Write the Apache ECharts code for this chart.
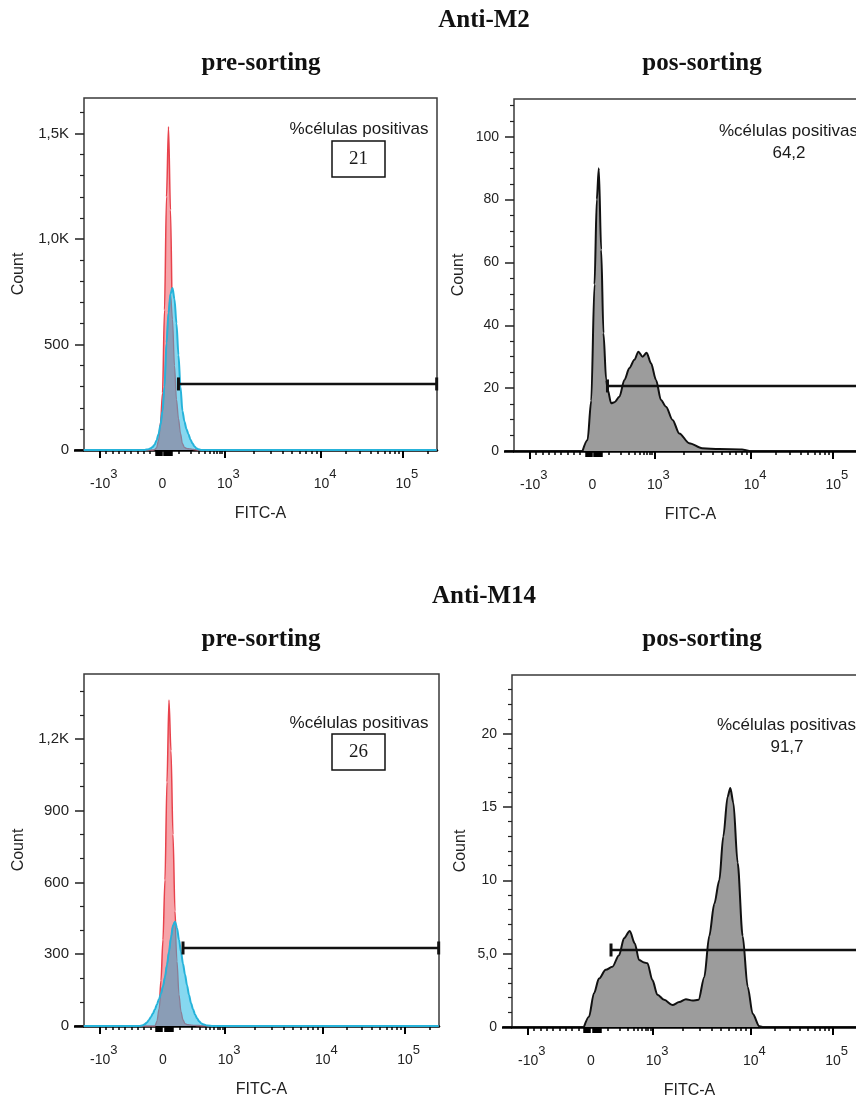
<!DOCTYPE html>
<html><head><meta charset="utf-8">
<script src="https://cdn.jsdelivr.net/npm/echarts@6/dist/echarts.min.js"></script>
<style>html,body{margin:0;padding:0;background:#fff}#c{width:856px;height:1099px}</style>
</head><body><div id="c"></div>
<script>
// ================= DATA =================
// x values are positions on the biexponential FITC-A display scale
// (0 = FITC 0, 62 = 10^3, 159 = 10^4, 241 = 10^5); y values are event counts.
const preX = [-79,-24,-22,-20,-18,-16,-14,-12,-10,-8,-6,-4,-2,0,2,4,6,8,10,12,14,16,18,20,22,24,26,28,30,32,34,36,38,40,44,50,275];
// Anti-M2 pre-sorting: control (red) and stained sample (cyan)
const m2PreControl = [0,0,0,0,0,0,0,0,0,2,10,45,130,270,663,1200,1532,1137,620,400,240,150,80,30,12,8,6,5,3,2,1,0,0,0,0,0,0];
const m2PreSample  = [0,0,0,0,0,2,4,8,14,25,45,75,120,185,300,507,650,740,768,715,600,450,300,185,135,100,75,50,32,18,8,3,1,0,0,0,0];
// Anti-M14 pre-sorting
const m14PreControl = [0,0,0,0,0,0,0,0,0,0,20,70,190,360,610,1020,1362,1150,800,480,270,130,60,25,10,6,5,4,3,3,2,2,1,1,1,0,0];
const m14PreSample  = [0,0,1,3,8,15,25,38,52,70,90,112,135,165,205,255,310,370,420,436,410,360,310,260,215,170,130,95,70,48,32,20,12,7,2,0,0];
// Anti-M2 pos-sorting [display position, count]
const m2Post = [[-10,0],[-5,3.5],[-1.3,16],[2,53],[4.3,80],[6.3,90],[8.7,64],[11,37.5],[13.7,22.6],[15.3,19.4],[18.7,15.2],[22,15.5],[27,17.3],[32,22.6],[37,26.4],[42,29],[46,31.6],[50.3,30],[54.3,31.3],[58.7,27.9],[63.7,22.6],[68.7,16.2],[73.7,14.1],[80.3,9.9],[87,5.6],[97,2.5],[110,0.9],[127,0.6],[150,0.5],[157,0]];
// Anti-M14 pos-sorting
const m14Post = [[-7,0],[-2,0.7],[3,2.3],[8,3.3],[14.7,3.9],[21.3,4.1],[28,4.9],[33,6.05],[38.7,6.55],[43.7,5.7],[48,4.57],[53,4.4],[56.3,4.35],[61.3,3.2],[66.3,2.2],[73,1.85],[81.3,1.5],[88,1.7],[94.7,1.9],[101.3,1.8],[107.3,1.85],[113,3.4],[118,6.2],[123,8.4],[128,10.0],[132,13.0],[136.3,15.7],[139,16.3],[142,15.3],[146.3,11.2],[151.3,6.2],[156.3,2.75],[161.3,0.9],[168,0.05],[171,0]];
// positive gates: [start, end, level]
const m2PreGate = [16, 275, 313];
const m2PostGate = [15, 275, 20.7];
const m14PreGate = [20, 275, 326];
const m14PostGate = [20, 275, 5.25];
// positive percentages
const positivePct = ['21', '64,2', '26', '91,7'];
// y tick values and labels
const m2PreYTicks = [0,500,1000,1500],   m2PreYLabels = ['0','500','1,0K','1,5K'];
const m2PostYTicks = [0,20,40,60,80,100], m2PostYLabels = ['0','20','40','60','80','100'];
const m14PreYTicks = [0,300,600,900,1200], m14PreYLabels = ['0','300','600','900','1,2K'];
const m14PostYTicks = [0,5,10,15,20],     m14PostYLabels = ['0','5,0','10','15','20'];
// x (FITC-A) tick values and labels
const xLabelValues = [-1000, 0, 1000, 10000, 100000];
const xLabelTexts = [['-10','3'],['0',''],['10','3'],['10','4'],['10','5']];
const xMajorValues = [-1000, 1000, 10000, 100000];
const xMinorValues = [-900,-800,-700,-600,-500,-400,-300,-200,100,200,300,400,500,600,700,800,900,
  2000,3000,4000,5000,6000,7000,8000,9000,20000,30000,40000,50000,60000,70000,80000,90000,200000];
const xNearZeroValues = [-100,-70,-40,-20,10,20,30,40,50];

// ================= SCALE =================
function toDisp(v) { // biexponential display transform
  if (v < 0) return 63 * v / 1000;
  if (v <= 1000) return 62 * Math.asinh(v / 120) / Math.asinh(1000 / 120);
  if (v <= 10000) return 62 + 97 * Math.log10(v / 1000);
  return 159 + 82 * Math.log10(v / 10000);
}
const xMin = toDisp(-1250), xMax = toDisp(262144);
const xLabelPos = xLabelValues.map(toDisp);
const xMajorPos = xMajorValues.map(toDisp);
const xMinorPos = xMinorValues.map(toDisp);
const xNearZeroPos = xNearZeroValues.map(toDisp);

const sans = "'Liberation Sans', Arial, Helvetica, sans-serif";
const serif = "'Liberation Serif', 'Times New Roman', serif";
const txt = '#222';

const zip = (xs, ys) => xs.map((x, i) => [x, ys[i]]);
const range = (step, max) => { const a = []; for (let v = step; v < max - 0.3 * step; v += step) a.push(+v.toFixed(6)); return a; };

const panels = [
  {grid:{left:84, top:98, width:353, height:352}, yMax:1668, yTicks:m2PreYTicks, yLabels:m2PreYLabels, minor:100, nameGap:57, lab:15,
   pre:[m2PreControl, m2PreSample], gate:m2PreGate},
  {grid:{left:514, top:99, width:353, height:352}, yMax:112, yTicks:m2PostYTicks, yLabels:m2PostYLabels, minor:5, nameGap:47, lab:14,
   post:m2Post, gate:m2PostGate},
  {grid:{left:84, top:674, width:355, height:352}, yMax:1471, yTicks:m14PreYTicks, yLabels:m14PreYLabels, minor:100, nameGap:57, lab:15,
   pre:[m14PreControl, m14PreSample], gate:m14PreGate},
  {grid:{left:512, top:675, width:355, height:352}, yMax:24, yTicks:m14PostYTicks, yLabels:m14PostYLabels, minor:1, nameGap:43, lab:14,
   post:m14Post, gate:m14PostGate}
];

const grids = [], xAxes = [], yAxes = [], series = [];
panels.forEach((p, g) => {
  grids.push(Object.assign({show:true, borderColor:'#3a3a3a', borderWidth:1.5, containLabel:false, outerBoundsMode:'none'}, p.grid));
  const xBase = {gridIndex:g, type:'value', min:xMin, max:xMax, position:'bottom', splitLine:{show:false}};
  xAxes.push(Object.assign({}, xBase, {
    name:'FITC-A', nameLocation:'middle', nameGap:56,
    nameTextStyle:{fontSize:16, fontFamily:sans, color:txt},
    axisLine:{show:true, onZero:false, lineStyle:{color:'#000', width:2.5}},
    axisTick:{show:true, customValues:xMajorPos, length:8, lineStyle:{color:'#000', width:2}},
    axisLabel:{show:true, customValues:xLabelPos, margin:18, color:txt, fontFamily:sans,
      formatter:(v) => {
        let i = 0, best = 1e9;
        xLabelPos.forEach((q, k) => { if (Math.abs(q - v) < best) { best = Math.abs(q - v); i = k; } });
        const t = xLabelTexts[i];
        return t[1] ? '{b|' + t[0] + '}{s|' + t[1] + '}' : '{z|' + t[0] + '}';
      },
      rich:{
        b:{fontSize:14, fontFamily:sans, color:txt, padding:[9,0,0,8], verticalAlign:'bottom'},
        s:{fontSize:13, fontFamily:sans, color:txt, verticalAlign:'top'},
        z:{fontSize:14, fontFamily:sans, color:txt, padding:[9,0,0,0], verticalAlign:'bottom'}
      }}
  }));
  xAxes.push(Object.assign({}, xBase, {
    axisLine:{show:false, onZero:false}, axisLabel:{show:false},
    axisTick:{show:true, customValues:xMinorPos, length:4, lineStyle:{color:'#000', width:1.5}}
  }));
  xAxes.push(Object.assign({}, xBase, {
    axisLine:{show:false, onZero:false}, axisLabel:{show:false},
    axisTick:{show:true, customValues:xNearZeroPos, length:6, lineStyle:{color:'#000', width:2.5}}
  }));
  const yBase = {gridIndex:g, type:'value', min:0, max:p.yMax, position:'left', splitLine:{show:false}, axisLine:{show:false, onZero:false}};
  yAxes.push(Object.assign({}, yBase, {
    name:'Count', nameLocation:'middle', nameGap:p.nameGap,
    nameTextStyle:{fontSize:16, fontFamily:sans, color:txt},
    axisTick:{show:true, customValues:p.yTicks, length:9, lineStyle:{color:'#222', width:1.5}},
    axisLabel:{show:true, customValues:p.yTicks, margin:15, fontSize:p.lab, fontFamily:sans, color:txt,
      formatter:(v) => p.yLabels[p.yTicks.indexOf(v)]}
  }));
  yAxes.push(Object.assign({}, yBase, {
    axisLabel:{show:false},
    axisTick:{show:true, customValues:range(p.minor, p.yMax).filter(v => p.yTicks.indexOf(v) < 0), length:4, lineStyle:{color:'#222', width:1.2}}
  }));
  yAxes.push(Object.assign({}, yBase, {
    axisLabel:{show:false},
    axisTick:{show:true, customValues:[0], length:10, lineStyle:{color:'#000', width:2.5}}
  }));
  const ax = {xAxisIndex:3 * g, yAxisIndex:3 * g, type:'line', symbol:'none', smooth:0.3, smoothMonotone:'x', silent:true, animation:false};
  if (p.pre) {
    const [ctrl, samp] = p.pre;
    const overlap = ctrl.map((v, i) => Math.min(v, samp[i]));
    series.push(Object.assign({}, ax, {data:zip(preX, ctrl), z:2,
      lineStyle:{color:'#e8424c', width:1.5}, areaStyle:{color:'#f6a4a9', opacity:1}}));
    series.push(Object.assign({}, ax, {data:zip(preX, samp), z:3,
      lineStyle:{width:0, opacity:0}, areaStyle:{color:'#86d8f0', opacity:1}}));
    series.push(Object.assign({}, ax, {data:zip(preX, overlap), z:4,
      lineStyle:{color:'#8b7d95', width:1.3}, areaStyle:{color:'#8a9db6', opacity:1}}));
    series.push(Object.assign({}, ax, {data:zip(preX, samp), z:5,
      lineStyle:{color:'#26b3da', width:2}}));
  } else {
    series.push(Object.assign({}, ax, {data:p.post, z:2,
      lineStyle:{color:'#111', width:2}, areaStyle:{color:'#9c9c9c', opacity:1}}));
  }
  const gt = p.gate;
  series.push({type:'line', xAxisIndex:3 * g, yAxisIndex:3 * g, data:[[gt[0], gt[2]], [gt[1], gt[2]]],
    symbol:'rect', symbolSize:[3, 13], showSymbol:true, silent:true, animation:false, z:10,
    lineStyle:{color:'#111', width:2.5}, itemStyle:{color:'#111'}});
});

const T = (x, y, text, o) => ({type:'text', x, y, silent:true, style:Object.assign({text, fill:'#1a1a1a',
  fontFamily:sans, fontSize:17, align:'center', verticalAlign:'middle'}, o || {})});
const head = {fontFamily:serif, fontWeight:'bold', fontSize:25, fill:'#111'};
const graphic = [
  T(484, 21, 'Anti-M2', head), T(261, 64, 'pre-sorting', head), T(702, 64, 'pos-sorting', head),
  T(484, 597, 'Anti-M14', head), T(261, 640, 'pre-sorting', head), T(702, 640, 'pos-sorting', head),
  T(359, 129, '%células positivas'),
  {type:'rect', shape:{x:332, y:141, width:53, height:36}, style:{fill:'#fff', stroke:'#111', lineWidth:1.5}, silent:true},
  T(358.5, 159.5, positivePct[0], {fontFamily:serif, fontSize:19}),
  T(719, 131, '%células positivas', {align:'left'}),
  T(789, 153, positivePct[1]),
  T(359, 723, '%células positivas'),
  {type:'rect', shape:{x:332, y:734, width:53, height:36}, style:{fill:'#fff', stroke:'#111', lineWidth:1.5}, silent:true},
  T(358.5, 752.5, positivePct[2], {fontFamily:serif, fontSize:19}),
  T(717, 725, '%células positivas', {align:'left'}),
  T(787, 747, positivePct[3])
];

const chart = echarts.init(document.getElementById('c'), null, {renderer:'canvas'});
chart.setOption({animation:false, backgroundColor:'#fff', grid:grids, xAxis:xAxes, yAxis:yAxes, series, graphic});
</script></body></html>
